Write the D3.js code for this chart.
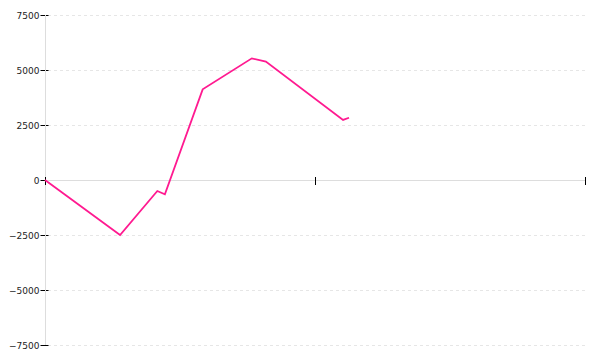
<!DOCTYPE html>
<html>
<head>
<meta charset="utf-8">
<script src="https://cdn.jsdelivr.net/npm/d3@7"></script>
<style>
  body { margin: 0; background: #fff; }
  text { font-family: "DejaVu Sans", sans-serif; font-size: 9px; fill: #222; }
</style>
</head>
<body>
<div id="chart"></div>
<script>
const width = 600
const height = 360
const margin = {top: 15, right: 15, bottom: 15, left: 45}

// data
const xValues = [0, 13.9, 20.8, 22.2, 29.2, 38.3, 40.9, 55.2, 56.3]
const yValues = [0, -2500, -500, -650, 4120, 5530, 5380, 2730, 2830]
const yTicks = [-7500, -5000, -2500, 0, 2500, 5000, 7500]
const xTicks = [0, 50, 100]

const points = xValues.map((x, i) => ({x: x, y: yValues[i]}))

const x = d3.scaleLinear().domain([0, 100]).range([margin.left, width - margin.right])
const y = d3.scaleLinear().domain([-7500, 7500]).range([height - margin.bottom, margin.top])

const svg = d3.select("#chart")
  .append("svg")
  .attr("width", width)
  .attr("height", height)

// dashed gridlines
svg.append("g")
  .selectAll("line")
  .data(yTicks.filter(d => d !== 0))
  .enter()
    .append("line")
    .attr("x1", margin.left + 3)
    .attr("x2", width - margin.right)
    .attr("y1", d => y(d) + 0.5)
    .attr("y2", d => y(d) + 0.5)
    .attr("stroke", "#e6e6e6")
    .attr("stroke-dasharray", "3,3")

// y axis
const yAxis = svg.append("g")
  .attr("transform", `translate(${margin.left + 0.5},0)`)
  .call(d3.axisLeft(y).tickValues(yTicks).tickSize(0).tickPadding(6).tickFormat(d3.format("d")))
yAxis.select(".domain").remove()
yAxis.selectAll(".tick text").attr("dy", "0.35em").style("font-family", "DejaVu Sans").style("font-size", "9px")
yAxis.selectAll(".tick line")
  .attr("x1", -5).attr("x2", 3)
  .attr("stroke", "#000")

svg.append("line")
  .attr("x1", margin.left + 0.5).attr("x2", margin.left + 0.5)
  .attr("y1", margin.top).attr("y2", height - margin.bottom)
  .attr("stroke", "#ddd")

// x axis at zero
svg.append("line")
  .attr("x1", margin.left).attr("x2", width - margin.right)
  .attr("y1", y(0) + 0.5).attr("y2", y(0) + 0.5)
  .attr("stroke", "#ddd")

const xAxis = svg.append("g")
  .attr("transform", `translate(0,${y(0)})`)
  .call(d3.axisBottom(x).tickValues(xTicks).tickSize(0).tickFormat(""))
xAxis.select(".domain").remove()
xAxis.selectAll(".tick line")
  .attr("y1", -3).attr("y2", 5)
  .attr("stroke", "#000")

// the line
const line = d3.line().x(d => x(d.x)).y(d => y(d.y))
svg.append("path")
  .datum(points)
  .attr("d", line)
  .attr("fill", "none")
  .attr("stroke", "#ff1a90")
  .attr("stroke-width", 1.8)
</script>
</body>
</html>
